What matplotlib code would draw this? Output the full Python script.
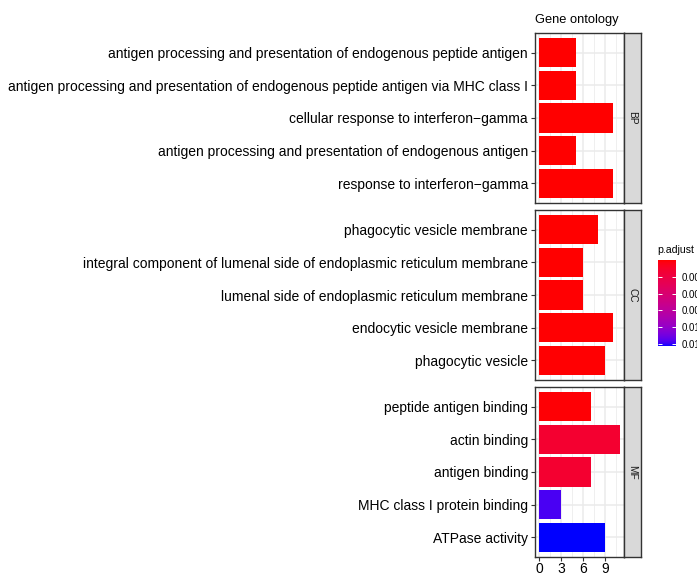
import numpy as np
import matplotlib
matplotlib.use("Agg")
import matplotlib.pyplot as plt
from matplotlib.colors import ListedColormap, Normalize
from matplotlib.colorbar import ColorbarBase

plt.rcParams["font.family"] = ["Liberation Sans", "DejaVu Sans"]

# ---- data -------------------------------------------------------------
ontology_groups = ["BP", "CC", "MF"]

bp_terms = [
    "antigen processing and presentation of endogenous peptide antigen",
    "antigen processing and presentation of endogenous peptide antigen via MHC class I",
    "cellular response to interferon\u2212gamma",
    "antigen processing and presentation of endogenous antigen",
    "response to interferon\u2212gamma",
]
bp_counts = [5, 5, 10, 5, 10]
bp_padj = [1.2e-5, 1.2e-5, 2.0e-5, 3.1e-5, 3.5e-5]

cc_terms = [
    "phagocytic vesicle membrane",
    "integral component of lumenal side of endoplasmic reticulum membrane",
    "lumenal side of endoplasmic reticulum membrane",
    "endocytic vesicle membrane",
    "phagocytic vesicle",
]
cc_counts = [8, 6, 6, 10, 9]
cc_padj = [4.0e-5, 6.0e-5, 8.0e-5, 9.0e-5, 1.1e-4]

mf_terms = [
    "peptide antigen binding",
    "actin binding",
    "antigen binding",
    "MHC class I protein binding",
    "ATPase activity",
]
mf_counts = [7, 11, 7, 3, 9]
mf_padj = [1.3e-4, 1.6e-3, 1.6e-3, 1.22e-2, 1.28e-2]

x_ticks = [0, 3, 6, 9]
cbar_ticks = [0.0025, 0.0050, 0.0075, 0.0100, 0.0125]
cbar_ticklabels = ["0.0025", "0.0050", "0.0075", "0.0100", "0.0125"]

terms = [bp_terms, cc_terms, mf_terms]
counts = [bp_counts, cc_counts, mf_counts]
padj = [bp_padj, cc_padj, mf_padj]


# ---- red -> blue gradient interpolated in CIELAB -----------------------
_M = np.array([[0.4124, 0.3576, 0.1805],
               [0.2126, 0.7152, 0.0722],
               [0.0193, 0.1192, 0.9505]])
_WHITE = np.array([0.95047, 1.0, 1.08883])


def _srgb_to_lab(rgb):
    c = np.asarray(rgb, float)
    lin = np.where(c <= 0.04045, c / 12.92, ((c + 0.055) / 1.055) ** 2.4)
    xyz = _M @ lin / _WHITE
    d = 6 / 29
    f = np.where(xyz > d ** 3, np.cbrt(xyz), xyz / (3 * d * d) + 4 / 29)
    return np.array([116 * f[1] - 16, 500 * (f[0] - f[1]), 200 * (f[1] - f[2])])


def _lab_to_srgb(lab):
    L, a, b = lab
    fy = (L + 16) / 116
    f = np.array([fy + a / 500, fy, fy - b / 200])
    d = 6 / 29
    xyz = np.where(f > d, f ** 3, 3 * d * d * (f - 4 / 29)) * _WHITE
    lin = np.clip(np.linalg.inv(_M) @ xyz, 0, 1)
    c = np.where(lin <= 0.0031308, 12.92 * lin, 1.055 * lin ** (1 / 2.4) - 0.055)
    return np.clip(c, 0, 1)


lab_lo = _srgb_to_lab([1, 0, 0])
lab_hi = _srgb_to_lab([0, 0, 1])
ramp = [_lab_to_srgb(lab_lo + t * (lab_hi - lab_lo)) for t in np.linspace(0, 1, 256)]
cmap = ListedColormap(ramp)

all_p = np.concatenate([np.asarray(p) for p in padj])
norm = Normalize(vmin=all_p.min(), vmax=all_p.max())

# ---- figure -----------------------------------------------------------
W, H = 697, 573
fig = plt.figure(figsize=(W / 100, H / 100), dpi=100)


def px_axes(x0, y0, x1, y1):
    return fig.add_axes([x0 / W, 1 - y1 / H, (x1 - x0) / W, (y1 - y0) / H])


border = "#333333"
grid_c = "#EBEBEB"
panel_x0, panel_x1 = 535, 624
strip_x1 = 641
panel_rows = [(33, 203), (210, 380), (387, 557)]

for i, (y0, y1) in enumerate(panel_rows):
    ax = px_axes(panel_x0, y0, panel_x1, y1)
    pos = np.arange(1, len(terms[i]) + 1)
    ax.barh(pos, counts[i], height=0.9,
            color=cmap(norm(np.asarray(padj[i]))), zorder=2)
    ax.set_xlim(-0.55, 11.55)
    ax.set_ylim(5.6, 0.4)
    ax.set_yticks(pos)
    ax.set_yticklabels(terms[i], fontsize=10, color="black")
    ax.set_xticks(x_ticks)
    ax.set_xticks([1.5, 4.5, 7.5, 10.5], minor=True)
    ax.set_axisbelow(True)
    ax.grid(which="major", color=grid_c, lw=1.1, zorder=0)
    ax.grid(which="minor", axis="x", color=grid_c, lw=0.55, zorder=0)
    ax.tick_params(axis="y", length=3, width=0.8, color=border, pad=2)
    ax.tick_params(which="minor", length=0)
    if i == len(panel_rows) - 1:
        ax.set_xticklabels([str(t) for t in x_ticks], fontsize=10, color="black")
        ax.tick_params(axis="x", length=3, width=0.8, color=border, pad=0.5)
    else:
        ax.tick_params(axis="x", length=0, labelbottom=False)
    for s in ax.spines.values():
        s.set_color(border)
        s.set_linewidth(1.0)

    # facet strip on the right
    sax = px_axes(panel_x1, y0, strip_x1, y1)
    sax.set_facecolor("#D9D9D9")
    sax.set_xticks([])
    sax.set_yticks([])
    for s in sax.spines.values():
        s.set_color(border)
        s.set_linewidth(1.0)
    sax.text(0.5, 0.5, ontology_groups[i], rotation=-90, ha="center",
             va="center", fontsize=7.3, color="#1A1A1A", transform=sax.transAxes)

fig.text(panel_x0 / W, 1 - 20 / H, "Gene ontology", fontsize=9.3,
         ha="left", va="center", color="black")

# ---- colour bar -------------------------------------------------------
cax = px_axes(658, 260, 676, 346)
cb = ColorbarBase(cax, cmap=cmap, norm=norm, orientation="vertical")
cb.outline.set_visible(False)
cax.invert_yaxis()
cb.set_ticks(cbar_ticks)
cb.set_ticklabels(cbar_ticklabels)
cax.tick_params(axis="y", which="both", direction="in", length=3.2, width=0.7,
                color="white", left=True, right=True, labelleft=False,
                labelright=True, labelsize=6.9, pad=4)
cax.tick_params(axis="y", which="minor", length=0)
fig.text(657 / W, 1 - 250 / H, "p.adjust", fontsize=7.6, ha="left",
         va="center", color="black")

fig.savefig("out.png", dpi=100)
